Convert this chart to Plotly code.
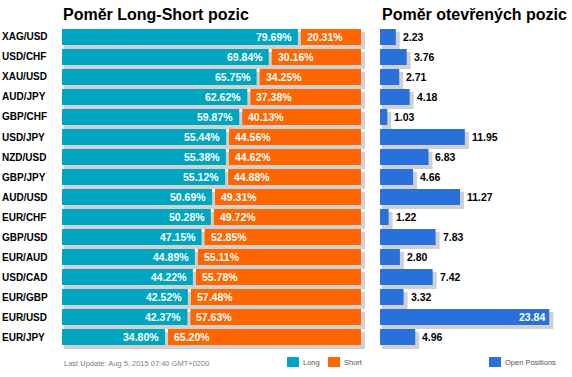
import plotly.graph_objects as go

pairs = ["XAG/USD", "USD/CHF", "XAU/USD", "AUD/JPY", "GBP/CHF", "USD/JPY", "NZD/USD", "GBP/JPY",
         "AUD/USD", "EUR/CHF", "GBP/USD", "EUR/AUD", "USD/CAD", "EUR/GBP", "EUR/USD", "EUR/JPY"]
long_pct = [79.69, 69.84, 65.75, 62.62, 59.87, 55.44, 55.38, 55.12,
            50.69, 50.28, 47.15, 44.89, 44.22, 42.52, 42.37, 34.80]
short_pct = [20.31, 30.16, 34.25, 37.38, 40.13, 44.56, 44.62, 44.88,
             49.31, 49.72, 52.85, 55.11, 55.78, 57.48, 57.63, 65.20]
open_pos = [2.23, 3.76, 2.71, 4.18, 1.03, 11.95, 6.83, 4.66,
            11.27, 1.22, 7.83, 2.80, 7.42, 3.32, 23.84, 4.96]

title_left = "Poměr Long-Short pozic"
title_right = "Poměr otevřených pozic"
footer = "Last Update: Aug 5, 2015 07:40 GMT+0200"
legend_labels = ["Long", "Short", "Open Positions"]

W, H = 572, 377
TEAL = "#00A6C0"
ORANGE = "#FF6600"
BLUE = "#2970DB"
SHADOW = "#D0D0D0"
FONT = "Liberation Sans, Arial, sans-serif"

# pixel scales
LPX = 2.96      # px per percent
RPX = 7.1       # px per open-position unit
GAP = 3 / LPX   # gap between long and short bars
L_RANGE = 103
R_RANGE = 26

fig = go.Figure()

# --- left panel ---
tot = [l + GAP + s for l, s in zip(long_pct, short_pct)]
fig.add_trace(go.Bar(
    y=pairs, x=[t + 2 / LPX for t in tot], base=[2 / LPX] * len(pairs),
    orientation="h", marker=dict(color=SHADOW, line=dict(width=0)),
    offset=-0.25, width=0.85, xaxis="x", yaxis="y", hoverinfo="skip"))
fig.add_trace(go.Bar(
    y=pairs, x=long_pct, base=[0] * len(pairs), orientation="h",
    marker=dict(color=TEAL, line=dict(width=0)), offset=-0.4, width=0.8,
    xaxis="x", yaxis="y", name="Long"))
fig.add_trace(go.Bar(
    y=pairs, x=short_pct, base=[l + GAP for l in long_pct], orientation="h",
    marker=dict(color=ORANGE, line=dict(width=0)), offset=-0.4, width=0.8,
    xaxis="x", yaxis="y", name="Short"))

# --- right panel ---
fig.add_trace(go.Bar(
    y=pairs, x=[v + 2 / RPX for v in open_pos], base=[2 / RPX] * len(pairs),
    orientation="h", marker=dict(color=SHADOW, line=dict(width=0)),
    offset=-0.25, width=0.85, xaxis="x2", yaxis="y2", hoverinfo="skip"))
fig.add_trace(go.Bar(
    y=pairs, x=open_pos, base=[0] * len(pairs), orientation="h",
    marker=dict(color=BLUE, line=dict(width=0)), offset=-0.4, width=0.8,
    xaxis="x2", yaxis="y2", name="Open Positions"))

ann = []
lab_font = dict(family=FONT, size=10.5, color="white")
for p, l, s in zip(pairs, long_pct, short_pct):
    ann.append(dict(x=l, y=p, xref="x", yref="y", text=f"<b>{l:.2f}%</b>",
                    xanchor="right", yanchor="middle", xshift=-4, showarrow=False, font=lab_font))
    ann.append(dict(x=l + GAP, y=p, xref="x", yref="y", text=f"<b>{s:.2f}%</b>",
                    xanchor="left", yanchor="middle", xshift=4, showarrow=False, font=lab_font))
    ann.append(dict(x=0, y=p, xref="paper", yref="y", text=f"<b>{p}</b>",
                    xanchor="left", yanchor="middle", showarrow=False,
                    font=dict(family=FONT, size=10, color="black")))
for p, v in zip(pairs, open_pos):
    if v > 20:
        ann.append(dict(x=v, y=p, xref="x2", yref="y2", text=f"<b>{v:.2f}</b>",
                        xanchor="right", yanchor="middle", xshift=-2, showarrow=False,
                        font=dict(family=FONT, size=10.5, color="white")))
    else:
        ann.append(dict(x=v, y=p, xref="x2", yref="y2", text=f"<b>{v:.2f}</b>",
                        xanchor="left", yanchor="middle", xshift=5, showarrow=False,
                        font=dict(family=FONT, size=10.5, color="black")))

ann.append(dict(x=61 / W, y=1 - 15 / H, xref="paper", yref="paper", text=f"<b>{title_left}</b>",
                xanchor="left", yanchor="middle", showarrow=False,
                font=dict(family=FONT, size=16, color="black")))
ann.append(dict(x=380 / W, y=1 - 15 / H, xref="paper", yref="paper", text=f"<b>{title_right}</b>",
                xanchor="left", yanchor="middle", showarrow=False,
                font=dict(family=FONT, size=16, color="black")))
ann.append(dict(x=62 / W, y=1 - 363 / H, xref="paper", yref="paper", text=footer,
                xanchor="left", yanchor="middle", showarrow=False,
                font=dict(family=FONT, size=7.5, color="#808080")))

shapes = []
leg = [(287, TEAL, legend_labels[0]), (328, ORANGE, legend_labels[1]), (489, BLUE, legend_labels[2])]
for x0, c, t in leg:
    shapes.append(dict(type="rect", xref="paper", yref="paper", x0=x0 / W, x1=(x0 + 12) / W,
                       y0=1 - 367 / H, y1=1 - 357 / H, fillcolor=c, line=dict(width=0)))
    ann.append(dict(x=(x0 + 14) / W, y=1 - 362 / H, xref="paper", yref="paper", text=t,
                    xanchor="left", yanchor="middle", showarrow=False,
                    font=dict(family=FONT, size=7.5, color="#555555")))

ydom = [(H - 353) / H, (H - 27) / H]
yax = dict(type="category", categoryorder="array", categoryarray=pairs,
           range=[15.8, -0.5], visible=False, showgrid=False, zeroline=False, fixedrange=True)

fig.update_layout(
    width=W, height=H, autosize=False,
    margin=dict(l=0, r=0, t=0, b=0),
    paper_bgcolor="white", plot_bgcolor="white",
    barmode="overlay", showlegend=False,
    xaxis=dict(domain=[62 / W, (62 + L_RANGE * LPX) / W], range=[0, L_RANGE],
               visible=False, showgrid=False, zeroline=False),
    xaxis2=dict(domain=[380 / W, (380 + R_RANGE * RPX) / W], range=[0, R_RANGE],
                visible=False, showgrid=False, zeroline=False),
    yaxis=dict(domain=ydom, anchor="x", **yax),
    yaxis2=dict(domain=ydom, anchor="x2", **yax),
    annotations=ann, shapes=shapes,
)

fig.write_html("out.html", config={"displayModeBar": False},
               post_script="document.body.style.margin='0';document.body.style.overflow='hidden';")
